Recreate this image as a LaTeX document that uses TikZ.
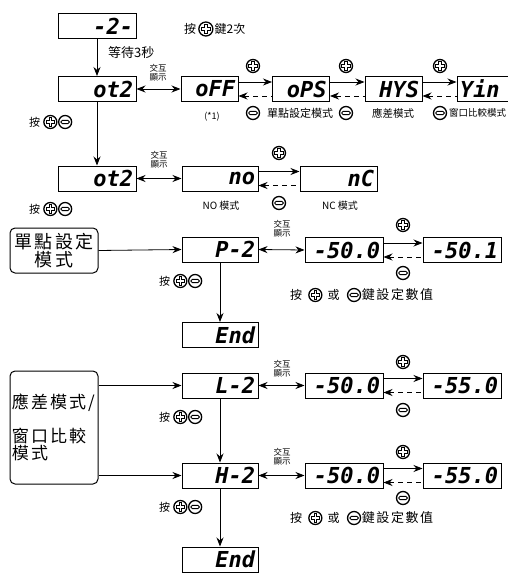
\documentclass[tikz,border=0pt]{standalone}
\usepackage{fontspec}
\setmainfont{Noto Sans CJK TC}
\newfontfamily\cjkwide{Noto Sans CJK TC}[LetterSpace=12]
\newfontfamily\segfont{DejaVu Sans Mono}
\usetikzlibrary{arrows.meta, % for arrow tips
                positioning}

\begin{document}
\begin{tikzpicture}[x=1pt, y=-1pt,
                    disp/.style={draw, line width=1pt, minimum height=25pt, inner xsep=3pt, inner ysep=0pt,
                                 text width=#1, align=right, font=\segfont\bfseries\itshape\fontsize{22}{22}\selectfont},
                    modebox/.style={draw, line width=1pt, rounded corners=5pt, minimum width=88pt, inner sep=0pt},
                    lbl/.style={inner sep=0pt, font=\fontsize{12}{12}\selectfont},
                    small/.style={inner sep=0pt, align=center, font=\fontsize{8.5}{9}\selectfont},
                    key/.style={circle, draw, line width=1.3pt, minimum size=13pt, inner sep=0pt},
                    keyP/.style={key, path picture={\draw[line width=0.9pt, fill=white, shift={(path picture bounding box.center)}]
                        (-1.3,-4.2) -- (1.3,-4.2) -- (1.3,-1.3) -- (4.2,-1.3) -- (4.2,1.3) -- (1.3,1.3) -- (1.3,4.2)
                        -- (-1.3,4.2) -- (-1.3,1.3) -- (-4.2,1.3) -- (-4.2,-1.3) -- (-1.3,-1.3) -- cycle;}},
                    keyM/.style={key, path picture={\draw[line width=0.9pt, rounded corners=1.5pt, shift={(path picture bounding box.center)}]
                        (-4.3,-1.6) rectangle (4.3,1.6);}},
                    arr/.style={-{Stealth[length=9pt, width=7pt]}, line width=0.8pt},
                    darr/.style={{Stealth[length=9pt, width=7pt]}-{Stealth[length=9pt, width=7pt]}, line width=0.8pt},
                    back/.style={{Stealth[length=9pt, width=7pt]}-, line width=0.8pt, dash pattern=on 5pt off 4pt}
                    ]
    \useasboundingbox (0,0) rectangle (508,575);
    \clip (0,0) rectangle (508,575);

    %display boxes
    \node[disp=72pt] at (97,26)      (top){-2-};
    \node[disp=72pt] at (97,89)      (ot2a){ot2};
    \node[disp=51pt] at (209.5,89)   (oFF){oFF};
    \node[disp=51pt] at (301,89)     (oPS){oPS};
    \node[disp=51pt] at (393.5,89)   (HYS){HYS};
    \node[disp=51pt, align=left] at (485.5,89) (Yin){Yin};
    \node[disp=72pt] at (97,178.5)   (ot2b){ot2};
    \node[disp=70pt] at (220,178.5)  (no){no};
    \node[disp=71pt] at (338.5,178.5)(nC){nC};
    \node[disp=70pt] at (220,249.5)  (P2){P-2};
    \node[disp=72pt] at (344,250)    (va){-50.0};
    \node[disp=72pt] at (462,250)    (vb){-50.1};
    \node[disp=70pt] at (220,335)    (End1){End};
    \node[disp=70pt] at (220,385.5)  (L2){L-2};
    \node[disp=72pt] at (344,385.5)  (vc){-50.0};
    \node[disp=72pt] at (462,385.5)  (vd){-55.0};
    \node[disp=70pt] at (220,475.5)  (H2){H-2};
    \node[disp=72pt] at (344,475.5)  (ve){-50.0};
    \node[disp=72pt] at (462,475.5)  (vf){-55.0};
    \node[disp=70pt] at (220,559.5)  (End2){End};

    %mode boxes
    \node[modebox, minimum height=45pt, align=center, font=\cjkwide\fontsize{18}{16.5}\selectfont]
        at (54,250.5) (single){單點設定\\模式};
    \node[modebox, minimum height=113pt, text width=84pt, inner xsep=2pt, align=left,
          font=\cjkwide\fontsize{17}{15.5}\selectfont]
        at (54,427.5) (window){應差模式/\\[16pt]窗口比較\\模式};

    %texts
    \node[lbl] at (190,29) (twice){按};
    \node[keyP, minimum size=14pt, right=2pt of twice] (twiceP){};
    \node[lbl, anchor=west, right=1pt of twiceP] {鍵2次};
    \node[lbl, font=\fontsize{13}{13}\selectfont, anchor=west] at (108,53) (wait){等待3秒};
    \node[small] at (158,73)  (sw1){交互\\顯示};
    \node[small] at (159,160) (sw2){交互\\顯示};
    \node[small] at (282,229) (sw3){交互\\顯示};
    \node[small] at (282,369) (sw4){交互\\顯示};
    \node[small] at (282,457) (sw5){交互\\顯示};
    \node[lbl, font=\fontsize{9}{9}\selectfont] at (212,117) (note){(*1)};
    \node[lbl, font=\fontsize{11}{11}\selectfont] at (300,113) (mSingle){單點設定模式};
    \node[lbl, font=\fontsize{10.5}{10.5}\selectfont] at (393,113) (mHys){應差模式};
    \node[lbl, font=\fontsize{9.5}{9.5}\selectfont, anchor=west] at (449,113) (mWin){窗口比較模式};
    \node[lbl, font=\fontsize{10}{10}\selectfont] at (221,206) (mNO){NO 模式};
    \node[lbl, font=\fontsize{10}{10}\selectfont] at (340,206) (mNC){NC 模式};

    %press hints
    \foreach \name/\x/\y in {h1/34.5/122, h2/34.5/209, h3/164.5/281, h4/164.5/417, h5/164.5/507}{
        \node[lbl, font=\fontsize{11}{11}\selectfont] at (\x,\y) (\name){按};
        \node[keyP, right=3pt of \name] (\name p){};
        \node[keyM, right=0.5pt of \name p] (\name m){};
    }
    \foreach \name/\y in {s1/295, s2/518}{
        \node[lbl] at (296,\y) (\name){按};
        \node[keyP, right=6pt of \name] (\name p){};
        \node[lbl, right=5pt of \name p] (\name o){或};
        \node[keyM, right=7pt of \name o] (\name m){};
        \node[lbl, font=\cjkwide\fontsize{13}{13}\selectfont, right=0.5pt of \name m] {鍵設定數值};
    }

    %keys between boxes
    \foreach \name/\x/\yp/\ym in {k1/253/66/113, k2/346/66/113, k3/440/66/113, k4/279/153/203,
                                  k5/403/225/273, k6/403/362/410, k7/403/452/498}{
        \node[keyP] at (\x,\yp) (\name p){};
        \node[keyM] at (\x,\ym) (\name m){};
    }

    % vertical flow
    \draw[arr] (top.south)  -- (ot2a.north);
    \draw[arr] (ot2a.south) -- (ot2b.north);
    \draw[arr] (P2.south)   -- (End1.north);
    \draw[arr] (L2.south)   -- (H2.north);
    \draw[arr] (H2.south)   -- (End2.north);
    \draw[arr] (single.east) -- (P2.west);
    \draw[arr] (window.east |- L2.west) -- (L2.west);
    \draw[arr] (window.east |- H2.west) -- (H2.west);

    % alternating display
    \draw[darr] (ot2a.east) -- (oFF.west);
    \draw[darr] (ot2b.east) -- (no.west);
    \draw[darr] (P2.east)   -- (va.west);
    \draw[darr] (L2.east)   -- (vc.west);
    \draw[darr] (H2.east)   -- (ve.west);

    % plus / minus steps
    \foreach \a/\b in {oFF/oPS, oPS/HYS, HYS/Yin, no/nC, va/vb, vc/vd, ve/vf}{
        \draw[arr]  ([yshift=7pt]\a.east)  -- ([yshift=7pt]\b.west);
        \draw[back] ([yshift=-7pt]\a.east) -- ([yshift=-7pt]\b.west);
    }

\end{tikzpicture}
\end{document}
